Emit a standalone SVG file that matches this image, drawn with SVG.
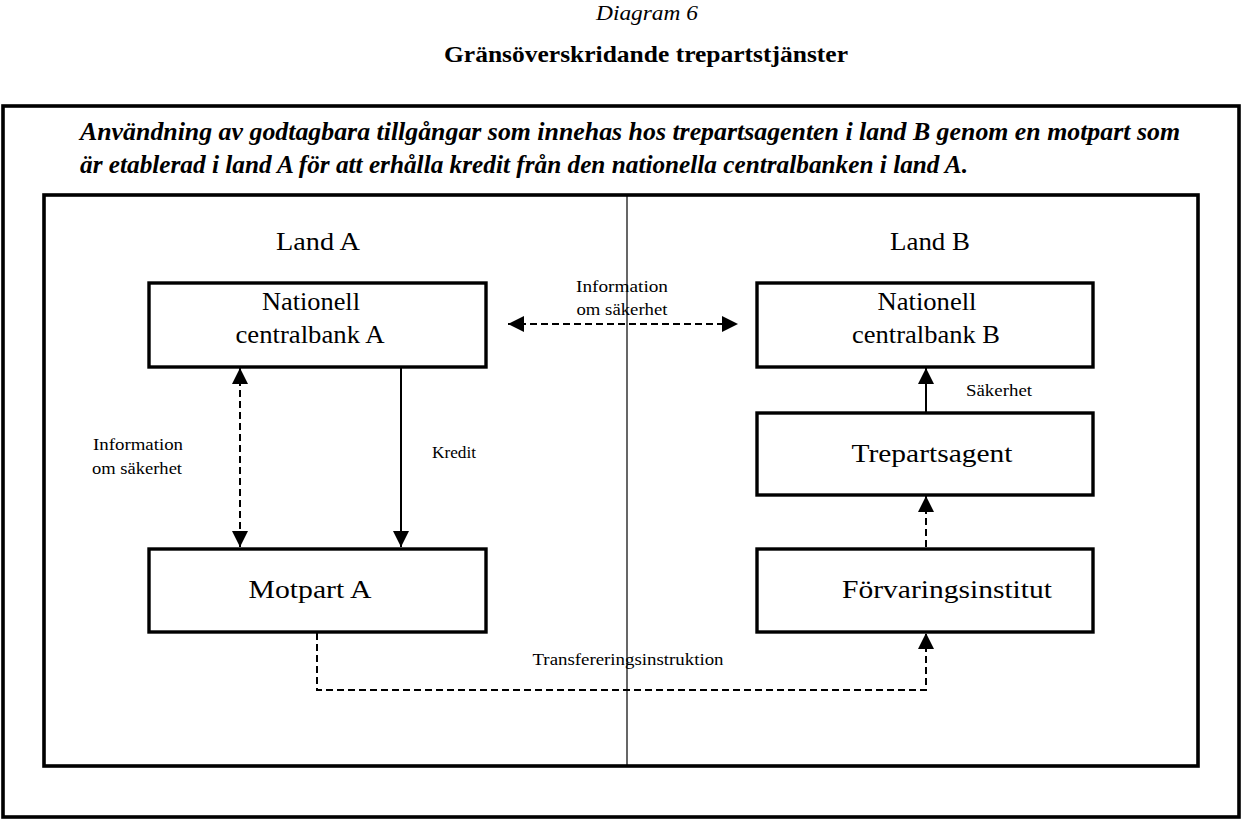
<svg xmlns="http://www.w3.org/2000/svg" width="1243" height="821" viewBox="0 0 1243 821">
<style>
text{font-family:"Liberation Serif","DejaVu Serif",serif;fill:#000}
.box{fill:#fff;stroke:#000;stroke-width:3.4}
.frame{fill:none;stroke:#000;stroke-width:3.6}
.node{font-size:25px;text-anchor:middle}
.lbl{font-size:16px;text-anchor:middle}
.ln{fill:none;stroke:#000;stroke-width:2}
.dash{stroke-dasharray:7 4}
</style>
<defs>
<marker id="ah" viewBox="0 0 10 10" refX="10" refY="5" markerWidth="16" markerHeight="16" markerUnits="userSpaceOnUse" orient="auto-start-reverse">
<path d="M0,0 L10,5 L0,10 z" fill="#000"/>
</marker>
</defs>
<rect width="1243" height="821" fill="#fff"/>
<text x="647" y="20" font-size="20" font-style="italic" text-anchor="middle" textLength="102" lengthAdjust="spacingAndGlyphs">Diagram 6</text>
<text x="646" y="62" font-size="23" font-weight="bold" text-anchor="middle" textLength="404" lengthAdjust="spacingAndGlyphs">Gränsöverskridande trepartstjänster</text>
<rect class="frame" x="3" y="106" width="1236" height="711"/>
<text x="80" y="140" font-size="25" font-weight="bold" font-style="italic" textLength="1100" lengthAdjust="spacingAndGlyphs">Användning av godtagbara tillgångar som innehas hos trepartsagenten i land B genom en motpart som</text>
<text x="80" y="173" font-size="25" font-weight="bold" font-style="italic" textLength="888" lengthAdjust="spacingAndGlyphs">är etablerad i land A för att erhålla kredit från den nationella centralbanken i land A.</text>
<rect class="frame" x="44" y="195" width="1154" height="571"/>
<line x1="627" y1="195" x2="627" y2="766" stroke="#000" stroke-width="1.2"/>
<text x="318" y="250" font-size="26" text-anchor="middle" textLength="84" lengthAdjust="spacingAndGlyphs">Land A</text>
<text x="930" y="250" font-size="26" text-anchor="middle" textLength="80" lengthAdjust="spacingAndGlyphs">Land B</text>
<g id="connectors">
<line class="ln dash" x1="508" y1="324" x2="738" y2="324" marker-start="url(#ah)" marker-end="url(#ah)"/>
<line class="ln dash" x1="240" y1="368" x2="240" y2="547" marker-start="url(#ah)" marker-end="url(#ah)"/>
<line class="ln" x1="401" y1="368" x2="401" y2="547" marker-end="url(#ah)"/>
<line class="ln" x1="926" y1="412" x2="926" y2="368" marker-end="url(#ah)"/>
<line class="ln dash" x1="926" y1="547" x2="926" y2="496" marker-end="url(#ah)"/>
<polyline class="ln dash" points="317,633 317,690 926,690 926,633" marker-end="url(#ah)"/>
<text class="lbl" x="622" y="292" textLength="92" lengthAdjust="spacingAndGlyphs">Information</text>
<text class="lbl" x="622" y="315" textLength="91" lengthAdjust="spacingAndGlyphs">om säkerhet</text>
<text class="lbl" x="138" y="450" textLength="90" lengthAdjust="spacingAndGlyphs">Information</text>
<text class="lbl" x="137" y="474" textLength="90" lengthAdjust="spacingAndGlyphs">om säkerhet</text>
<text class="lbl" x="454" y="458" textLength="44" lengthAdjust="spacingAndGlyphs">Kredit</text>
<text class="lbl" x="999" y="396" textLength="66" lengthAdjust="spacingAndGlyphs">Säkerhet</text>
<text class="lbl" x="628" y="665" textLength="191" lengthAdjust="spacingAndGlyphs">Transfereringsinstruktion</text>
</g>
<g id="ncbA">
<rect class="box" x="149" y="283" width="337" height="84"/>
<text class="node" x="311" y="310" textLength="98" lengthAdjust="spacingAndGlyphs">Nationell</text>
<text class="node" x="310" y="343" textLength="149" lengthAdjust="spacingAndGlyphs">centralbank A</text>
</g>
<g id="motpartA">
<rect class="box" x="149" y="549" width="337" height="83"/>
<text class="node" x="310" y="598" textLength="123" lengthAdjust="spacingAndGlyphs">Motpart A</text>
</g>
<g id="ncbB">
<rect class="box" x="757" y="283" width="336" height="84"/>
<text class="node" x="927" y="310" textLength="99" lengthAdjust="spacingAndGlyphs">Nationell</text>
<text class="node" x="926" y="343" textLength="148" lengthAdjust="spacingAndGlyphs">centralbank B</text>
</g>
<g id="trepartsagent">
<rect class="box" x="757" y="413" width="336" height="82"/>
<text class="node" x="932" y="462" textLength="161" lengthAdjust="spacingAndGlyphs">Trepartsagent</text>
</g>
<g id="forvaringsinstitut">
<rect class="box" x="757" y="549" width="336" height="83"/>
<text class="node" x="947" y="598" textLength="210" lengthAdjust="spacingAndGlyphs">Förvaringsinstitut</text>
</g>
</svg>
